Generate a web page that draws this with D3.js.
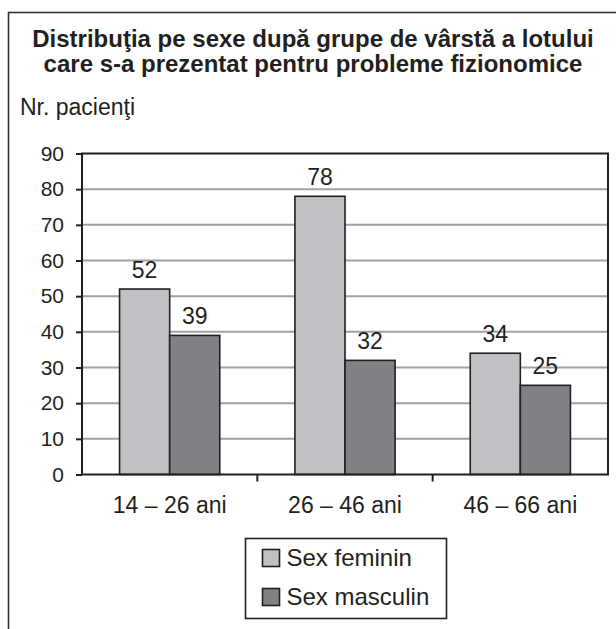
<!DOCTYPE html>
<html lang="ro">
<head>
  <meta charset="UTF-8">
  <title>Distribuţia pe sexe</title>
  <script src="https://d3js.org/d3.v7.min.js"></script>
  <style>
      body { margin: 0; background: #fff; }
      text { font-family: "Liberation Sans", Arial, Helvetica, sans-serif; fill: #231f20; }
      .title { font-weight: bold; font-size: 24px; }
      .tick text { font-size: 21px; }
      .grid line { stroke: #a0a1a4; stroke-width: 2px; }
      .bar { stroke: #231f20; stroke-width: 1.6px; }
  </style>
</head>
<body>
<svg width="616" height="629"></svg>
<script>
  const categories = ["14 – 26 ani", "26 – 46 ani", "46 – 66 ani"];
  const series = ["Sex feminin", "Sex masculin"];
  const feminin = [52, 78, 34];
  const masculin = [39, 32, 25];
  const yTicks = [0, 10, 20, 30, 40, 50, 60, 70, 80, 90];
  const colors = ["#c0c1c4", "#808184"];

  const svg = d3.select("svg");
  const margin = {left: 82, right: 8, top: 153.5, bottom: 154.5};
  const plotW = 616 - margin.left - margin.right;
  const plotH = 629 - margin.top - margin.bottom;

  // outer frame (goes past the right and bottom edges)
  svg.append("rect")
  .attr("x", 8.5).attr("y", 12.5)
  .attr("width", 640).attr("height", 660)
  .attr("fill", "none")
  .attr("stroke", "#333")
  .attr("stroke-width", 1.6);

  svg.append("text").attr("class", "title")
  .attr("x", 313).attr("y", 47).attr("text-anchor", "middle")
  .text("Distribuţia pe sexe după grupe de vârstă a lotului");
  svg.append("text").attr("class", "title")
  .attr("x", 313).attr("y", 72).attr("text-anchor", "middle")
  .text("care s-a prezentat pentru probleme fizionomice");

  svg.append("text")
  .attr("x", 20).attr("y", 115)
  .style("font-size", "23px")
  .text("Nr. pacienţi");

  const g = svg.append("g").attr("transform", `translate(${margin.left},${margin.top})`);

  const x0 = d3.scaleBand().domain(categories).range([0, plotW]).padding(0);
  const barW = x0.bandwidth() / 3.5;
  const x1 = d3.scaleBand().domain(series)
  .range([barW * 0.75, x0.bandwidth() - barW * 0.75]);
  const y = d3.scaleLinear().domain([0, 90]).range([plotH, 0]);

  // gridlines
  g.append("g").attr("class", "grid")
  .selectAll("line")
  .data(yTicks.filter(d => d > 0 && d < 90))
  .enter().append("line")
  .attr("x1", 0).attr("x2", plotW)
  .attr("y1", d => y(d)).attr("y2", d => y(d));

  const rows = categories.map((c, i) => ({cat: c, values: [feminin[i], masculin[i]]}));

  const groups = g.selectAll(".group")
  .data(rows)
  .enter().append("g")
  .attr("class", "group")
  .attr("transform", d => `translate(${x0(d.cat)},0)`);

  groups.selectAll("rect")
  .data(d => d.values.map((v, j) => ({s: series[j], v, j})))
  .enter().append("rect")
  .attr("class", "bar")
  .attr("x", d => x1(d.s))
  .attr("y", d => y(d.v))
  .attr("width", x1.bandwidth())
  .attr("height", d => plotH - y(d.v))
  .attr("fill", d => colors[d.j]);

  groups.selectAll(".val")
  .data(d => d.values.map((v, j) => ({s: series[j], v})))
  .enter().append("text")
  .attr("class", "val")
  .attr("x", d => x1(d.s) + x1.bandwidth() / 2)
  .attr("y", d => y(d.v) - 11)
  .attr("text-anchor", "middle")
  .style("font-size", "23px")
  .text(d => d.v);

  // plot border
  g.append("rect")
  .attr("width", plotW).attr("height", plotH)
  .attr("fill", "none")
  .attr("stroke", "#231f20")
  .attr("stroke-width", 2);

  const yAxis = g.append("g")
  .call(d3.axisLeft(y).tickValues(yTicks).tickSize(6).tickPadding(12));
  yAxis.select(".domain").remove();
  yAxis.selectAll(".tick line").attr("stroke", "#231f20").attr("stroke-width", 2);

  const xAxis = g.append("g")
  .attr("transform", `translate(0,${plotH})`)
  .call(d3.axisBottom(x0).tickSize(0).tickPadding(0));
  xAxis.select(".domain").remove();
  xAxis.selectAll(".tick text").style("font-size", "23px").attr("dy", null).attr("y", 38);

  // ticks between the categories
  g.append("g")
  .selectAll("line")
  .data(categories.slice(1))
  .enter().append("line")
  .attr("x1", d => x0(d)).attr("x2", d => x0(d))
  .attr("y1", plotH).attr("y2", plotH + 7)
  .attr("stroke", "#231f20").attr("stroke-width", 2);

  // legend
  const legend = svg.append("g").attr("transform", "translate(245.5,538.5)");
  legend.append("rect")
  .attr("width", 201).attr("height", 80)
  .attr("fill", "#fff")
  .attr("stroke", "#231f20").attr("stroke-width", 1.6);

  const item = legend.selectAll(".item")
  .data(series)
  .enter().append("g")
  .attr("class", "item")
  .attr("transform", (d, i) => `translate(17,${11 + i * 39})`);

  item.append("rect")
  .attr("width", 17).attr("height", 17)
  .attr("fill", (d, i) => colors[i])
  .attr("stroke", "#231f20").attr("stroke-width", 1.6);

  item.append("text")
  .attr("x", 24).attr("y", 16)
  .style("font-size", "24px")
  .text(d => d);
</script>
</body>
</html>
